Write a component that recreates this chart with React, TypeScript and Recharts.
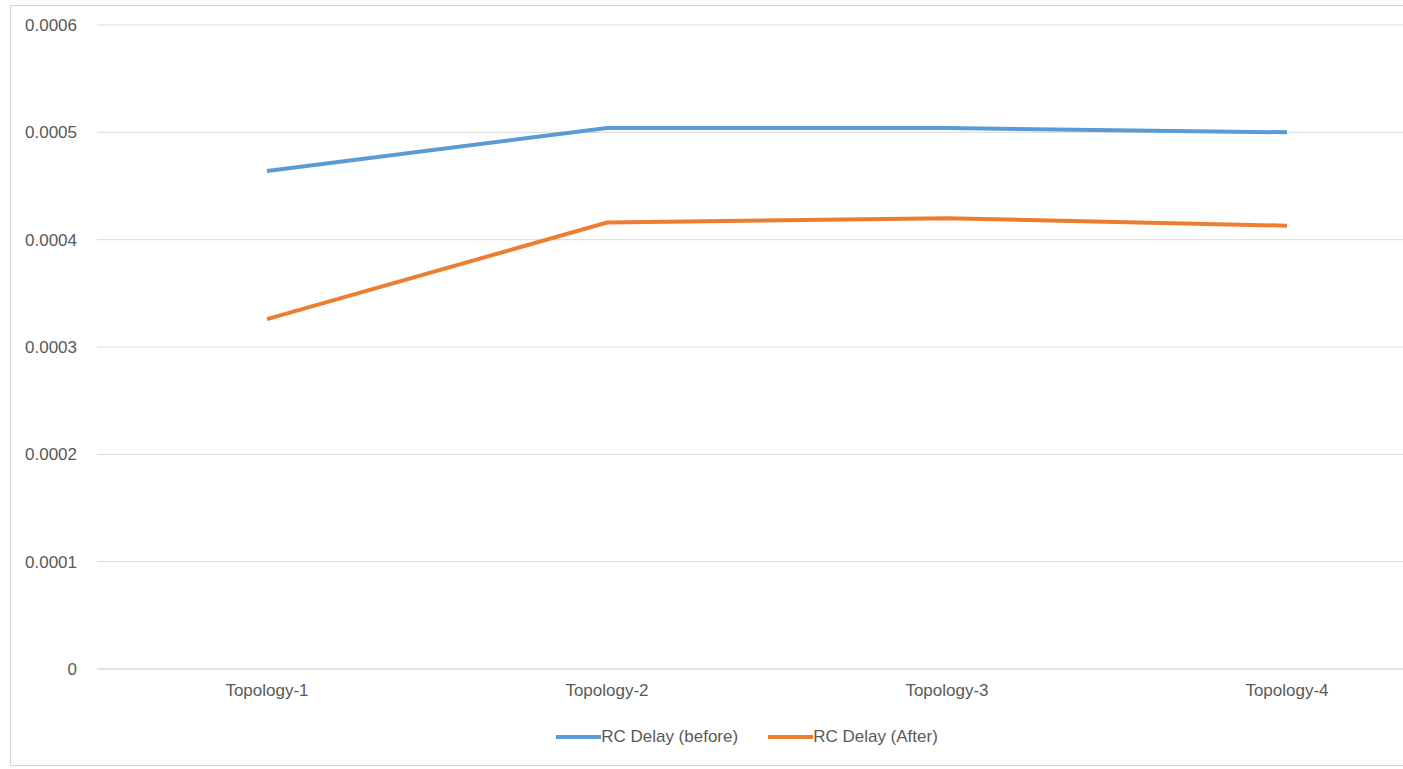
import { LineChart, Line, XAxis, YAxis, CartesianGrid, Legend } from 'recharts';

const topologies = ['Topology-1', 'Topology-2', 'Topology-3', 'Topology-4'];
const rcDelayBefore = [0.000464, 0.000504, 0.000504, 0.0005];
const rcDelayAfter = [0.000326, 0.000416, 0.00042, 0.000413];
const yTicks = [0, 0.0001, 0.0002, 0.0003, 0.0004, 0.0005, 0.0006];

const data = topologies.map((name, i) => ({
  name,
  before: rcDelayBefore[i],
  after: rcDelayAfter[i],
}));

const FONT = '"Liberation Sans", Arial, sans-serif';
const TEXT = '#595959';
const GRID = '#d9d9d9';

function LegendContent() {
  const items = [
    { label: 'RC Delay (before)', color: '#5b9bd5' },
    { label: 'RC Delay (After)', color: '#ed7d31' },
  ];
  return (
    <div style={{ height: 30, display: 'flex', alignItems: 'center', justifyContent: 'center', gap: 30 }}>
      {items.map((it) => (
        <div key={it.label} style={{ display: 'flex', alignItems: 'center' }}>
          <span style={{ display: 'inline-block', width: 45, height: 4, background: it.color }} />
          <span style={{ fontFamily: FONT, fontSize: 17, color: TEXT }}>{it.label}</span>
        </div>
      ))}
    </div>
  );
}

export default function App() {
  return (
    <div style={{ position: 'absolute', left: 0, top: 0, width: 1403, height: 769, overflow: 'hidden', background: '#fff' }}>
      <div
        style={{
          position: 'absolute',
          left: 10,
          top: 5,
          width: 1474,
          height: 761,
          border: '1px solid #d4d4d4',
          boxSizing: 'border-box',
        }}
      />
      <div style={{ position: 'absolute', left: 0, top: 0 }}>
        <LineChart width={1487} height={769} data={data} margin={{ top: 25, right: 30, left: 0, bottom: 17 }}>
          <CartesianGrid vertical={false} stroke={GRID} strokeWidth={1} />
          <XAxis
            dataKey="name"
            padding={{ left: 170, right: 170 }}
            height={53}
            tickLine={false}
            tickSize={0}
            tickMargin={15}
            axisLine={{ stroke: GRID }}
            tick={{ fontSize: 17, fill: TEXT, fontFamily: FONT }}
          />
          <YAxis
            width={97}
            domain={[0, 0.0006]}
            ticks={yTicks}
            axisLine={false}
            tickLine={false}
            tickSize={0}
            tickMargin={20}
            tick={{ fontSize: 17, fill: TEXT, fontFamily: FONT }}
          />
          <Legend verticalAlign="bottom" height={30} wrapperStyle={{ left: 10, width: 1474 }} content={<LegendContent />} />
          <Line
            type="linear"
            dataKey="before"
            name="RC Delay (before)"
            stroke="#5b9bd5"
            strokeWidth={4}
            dot={false}
            activeDot={false}
            isAnimationActive={false}
          />
          <Line
            type="linear"
            dataKey="after"
            name="RC Delay (After)"
            stroke="#ed7d31"
            strokeWidth={4}
            dot={false}
            activeDot={false}
            isAnimationActive={false}
          />
        </LineChart>
      </div>
    </div>
  );
}
